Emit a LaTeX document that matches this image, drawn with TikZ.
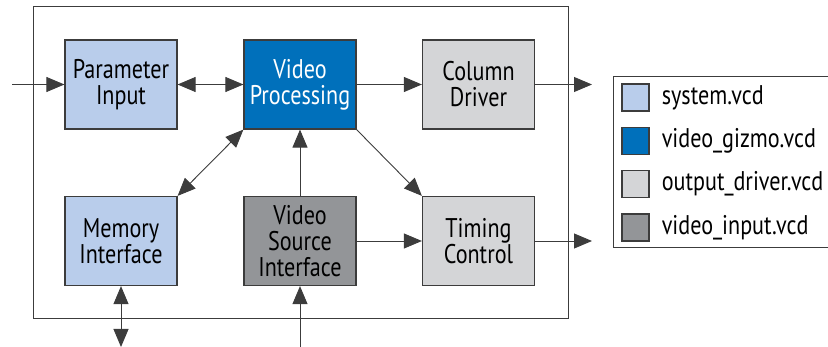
\documentclass[tikz,border=0pt]{standalone}
\usepackage{fontspec}
\setmainfont{PT Sans}[FakeStretch=0.82]
\usetikzlibrary{arrows.meta,positioning}
\definecolor{sysblue}{RGB}{185,205,235}
\definecolor{gizblue}{RGB}{0,112,187}
\definecolor{outgray}{RGB}{212,213,215}
\definecolor{ingray}{RGB}{147,149,152}
\definecolor{edgegray}{RGB}{60,60,60}

\begin{document}
\begin{tikzpicture}[x=1pt,y=-1pt,
  blk/.style={draw=edgegray,line width=1.2pt,minimum width=112pt,minimum height=89pt,
    align=center,inner sep=0pt,font=\fontsize{27}{26}\selectfont},
  swatch/.style={draw=edgegray,line width=1.2pt,minimum width=27pt,minimum height=27pt,inner sep=0pt},
  legtxt/.style={font=\fontsize{27}{26}\selectfont,inner sep=0pt,anchor=west},
  link/.style={draw=edgegray,line width=0.9pt,-{Triangle[length=18pt,width=15pt]}},
  dlink/.style={link,{Triangle[length=18pt,width=15pt]}-{Triangle[length=18pt,width=15pt]}}]
\useasboundingbox (0,0) rectangle (828,347);
% outer frame
\draw[edgegray,line width=1pt] (33,7) rectangle (568,319);
% blocks
\node[blk,fill=sysblue] (param) at (121,84.5) {Parameter\\Input};
\node[blk,fill=gizblue,text=white] (vproc) at (300,84.5) {Video\\Processing};
\node[blk,fill=outgray] (coldrv) at (478.5,84.5) {Column\\Driver};
\node[blk,fill=sysblue] (memif) at (121,241) {Memory\\Interface};
\node[blk,fill=ingray] (vsrc) at (300,241) {Video\\Source\\Interface};
\node[blk,fill=outgray] (timing) at (478.5,241) {Timing\\Control};
% free ends
\coordinate (inL) at (12,84.5);
\coordinate (outC) at (592,84.5);
\coordinate (outT) at (592,241);
\coordinate (memB) at (121,347);
\coordinate (vsrcB) at (300,347);
% connectors
\draw[link] (inL) -- (param);
\draw[dlink] (param) -- (vproc);
\draw[link] (vproc) -- (coldrv);
\draw[link] (coldrv) -- (outC);
\draw[link] (timing) -- (outT);
\draw[link] (vproc.south east) -- (timing.north west);
\draw[dlink] (memif.north east) -- (vproc.south west);
\draw[link] (vsrc) -- (vproc);
\draw[link] (vsrc) -- (timing);
\draw[dlink] (memif) -- (memB);
\draw[link] (vsrcB) -- (vsrc);
% legend
\draw[edgegray,line width=1pt] (828,77) -- (613,77) -- (613,248) -- (828,248);
\node[swatch,fill=sysblue] (sw1) at (635.5,97.5) {};
\node[swatch,fill=gizblue] (sw2) at (635.5,141) {};
\node[swatch,fill=outgray] (sw3) at (635.5,184) {};
\node[swatch,fill=ingray] (sw4) at (635.5,227.5) {};
\node[legtxt,right=12pt of sw1] (l1) {system.vcd};
\node[legtxt,right=12pt of sw2] (l2) {video\_gizmo.vcd};
\node[legtxt,right=12pt of sw3] (l3) {output\_driver.vcd};
\node[legtxt,right=12pt of sw4] (l4) {video\_input.vcd};
\end{tikzpicture}
\end{document}
